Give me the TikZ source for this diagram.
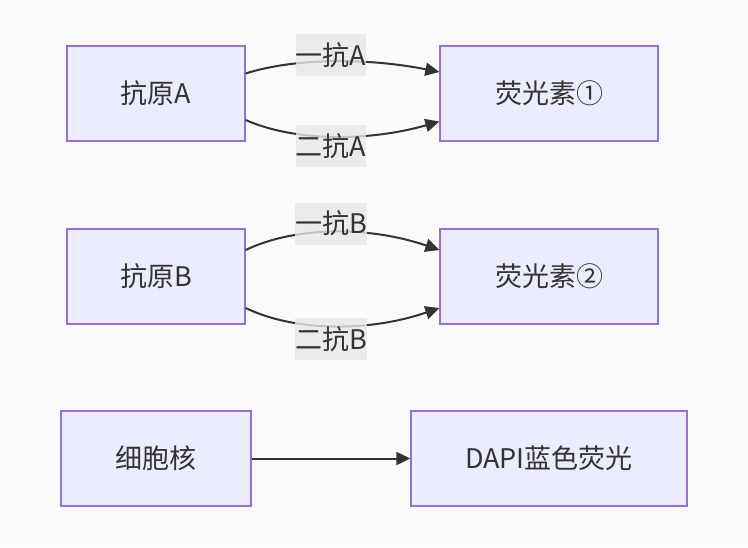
\documentclass[tikz,border=0pt]{standalone}
\usepackage{fontspec}
\setmainfont{Noto Sans CJK SC}
\usetikzlibrary{arrows.meta}
\definecolor{boxfill}{HTML}{ECECFF}
\definecolor{boxline}{HTML}{9370DB}
\definecolor{ink}{HTML}{333333}
\definecolor{lblfill}{HTML}{E8E8E8}
\definecolor{paper}{HTML}{FAFAFA}
\tikzset{
  box/.style={draw=boxline, fill=boxfill, line width=1.3pt, text=ink,
    minimum height=95pt, inner sep=0pt},
  lbl/.style={fill=lblfill, fill opacity=0.8, text opacity=1, text=ink,
    inner xsep=0pt, minimum height=42pt},
  edge/.style={draw=ink, line width=2pt, -{Triangle[length=14pt,width=13pt]}}
}
\begin{document}
\begin{tikzpicture}[x=1pt, y=-1pt, font=\fontsize{27}{32}\selectfont]
      \fill[paper] (0,0) rectangle (748,547);
      \node[box, minimum width=178pt] (antA) at (156,93.5) {抗原A};
      \node[box, minimum width=218pt] (flA) at (549,93.5) {荧光素①};
      \node[box, minimum width=178pt] (antB) at (156,276.5) {抗原B};
      \node[box, minimum width=218pt] (flB) at (549,276.5) {荧光素②};
      \node[box, minimum width=190pt] (nuc) at (156,458.5) {细胞核};
      \node[box, minimum width=276pt] (dapi) at (549,458.5) {DAPI蓝色荧光};
      \begin{scope}[edge]
        \draw ([yshift=20pt]antA.east) .. controls +(50,-16) and +(-70,-14) .. ([yshift=21.5pt]flA.west);
        \draw ([yshift=-26.5pt]antA.east) .. controls +(50,22) and +(-70,20) .. ([yshift=-28pt]flA.west);
        \draw ([yshift=26.5pt]antB.east) .. controls +(50,-24) and +(-70,-24) .. ([yshift=26.5pt]flB.west);
        \draw ([yshift=-31.5pt]antB.east) .. controls +(50,24) and +(-70,24) .. ([yshift=-31.5pt]flB.west);
        \draw (nuc) -- (dapi);
      \end{scope}
      \node[lbl] (a1) at (331,55) {一抗A};
      \node[lbl] (a2) at (331,146) {二抗A};
      \node[lbl] (b1) at (331,223.5) {一抗B};
      \node[lbl] (b2) at (331,339) {二抗B};
    \end{tikzpicture}
\end{document}
